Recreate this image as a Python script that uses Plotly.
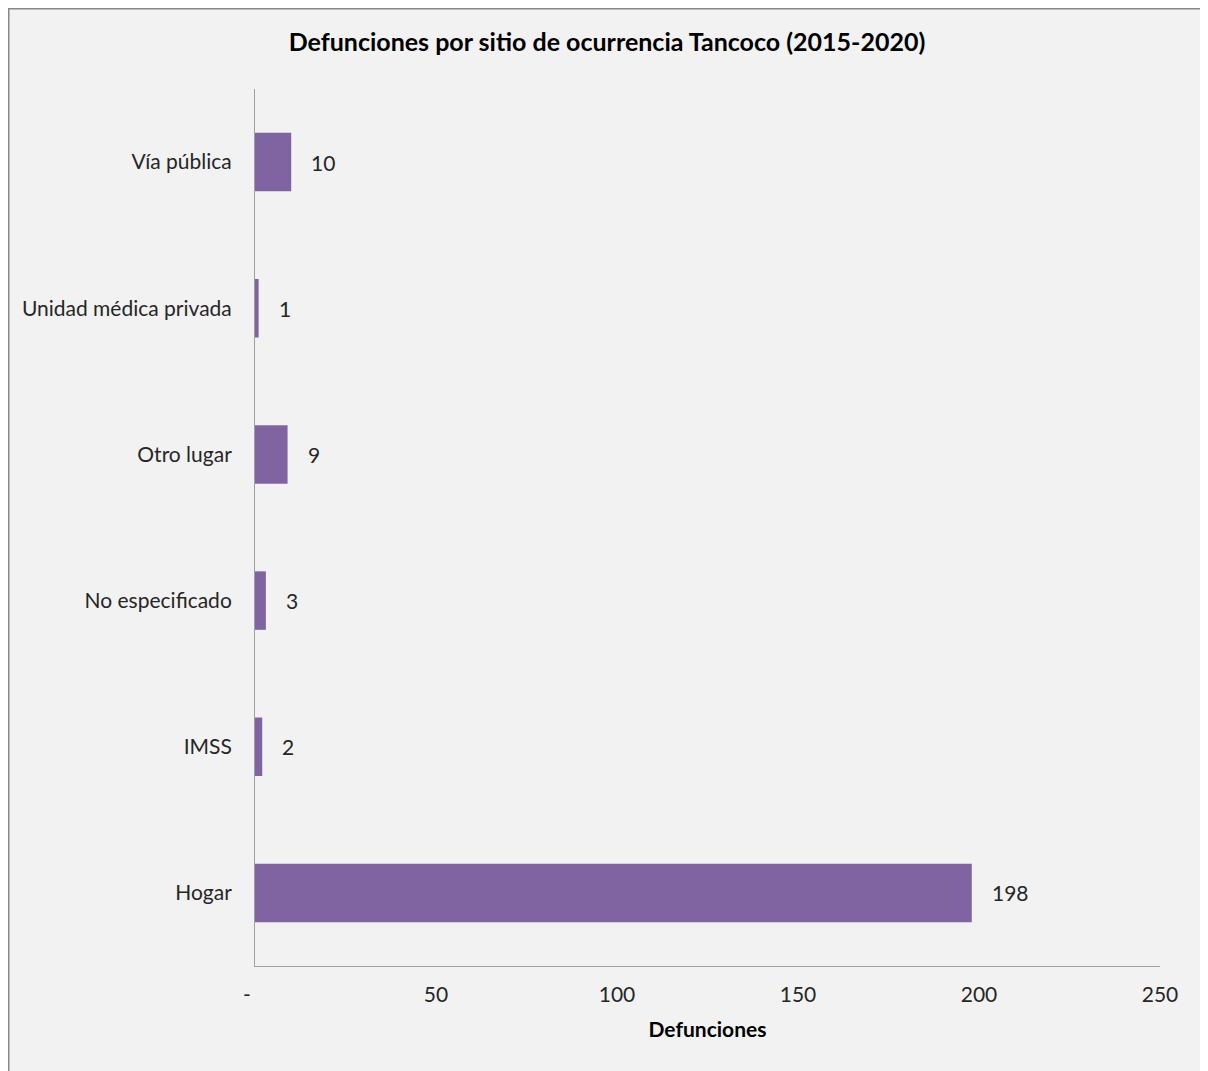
import plotly.graph_objects as go

categories = ["Hogar", "IMSS", "No especificado", "Otro lugar", "Unidad médica privada", "Vía pública"]
values = [198, 2, 3, 9, 1, 10]
x_tickvals = [0, 50, 100, 150, 200, 250]
x_ticktext = ["-\u00a0\u00a0\u00a0", "50", "100", "150", "200", "250"]

FONT = "Lato, 'Open Sans', sans-serif"
W, H = 1200, 1063
L, R, T, B = 247, 48, 81, 105
pw, ph = W - L - R, H - T - B

def px(x):
    return (x - L) / pw

def py(y):
    return (H - B - y) / ph

fig = go.Figure()
fig.add_trace(go.Bar(
    x=values, y=categories, orientation="h",
    marker=dict(color="#8064a2", line=dict(width=0)),
    width=0.4,
    hoverinfo="x+y",
))

for c, v in zip(categories, values):
    fig.add_annotation(x=v, y=c, text=str(v), showarrow=False,
                       xanchor="left", xshift=18,
                       font=dict(family=FONT, size=21, color="#262626"))

fig.add_shape(type="rect", xref="paper", yref="paper",
              x0=px(0.5), x1=px(1199.5), y0=py(1075), y1=py(0.5),
              fillcolor="#f2f2f2", line=dict(color="#888888", width=2),
              layer="below")

fig.update_layout(
    width=W, height=H,
    margin=dict(l=L, r=R, t=T, b=B),
    paper_bgcolor="white",
    plot_bgcolor="rgba(0,0,0,0)",
    showlegend=False,
    title=dict(text="<b>Defunciones por sitio de ocurrencia Tancoco (2015-2020)</b>",
               x=599 / W, xanchor="center", y=1 - 34 / H, yanchor="middle",
               font=dict(family=FONT, size=25, color="#000000")),
    font=dict(family=FONT, size=21, color="#262626"),
)
fig.update_xaxes(range=[0, 250], tickvals=x_tickvals, ticktext=x_ticktext,
                 showgrid=False, zeroline=False, showline=True,
                 linecolor="#a0a0a0", linewidth=1, ticks="",
                 ticklabelstandoff=10,
                 title=dict(text="<b>Defunciones</b>", standoff=17,
                            font=dict(family=FONT, size=21, color="#000000")),
                 tickfont=dict(family=FONT, size=21, color="#262626"),
                 fixedrange=True)
fig.update_yaxes(showgrid=False, zeroline=False, showline=True,
                 linecolor="#a0a0a0", linewidth=1, ticks="",
                 ticklabelstandoff=18,
                 tickfont=dict(family=FONT, size=21, color="#262626"),
                 fixedrange=True)

fig.write_html("out.html")
